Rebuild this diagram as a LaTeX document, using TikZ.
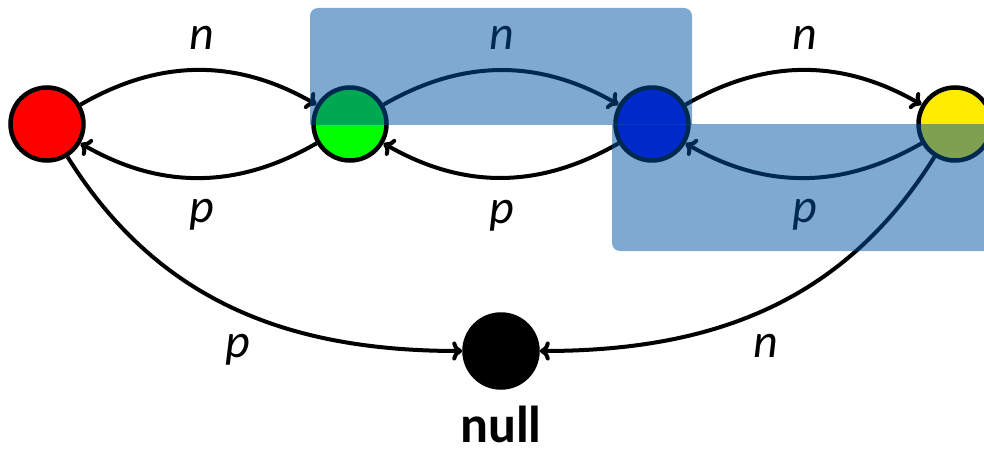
\documentclass[tikz,border=0pt]{standalone}
\usepackage{fontspec}
\setmainfont{Carlito}
\usetikzlibrary{arrows.meta}
\definecolor{hlblue}{RGB}{0,83,163}
\definecolor{nred}{RGB}{255,0,0}
\definecolor{ngreen}{RGB}{0,255,0}
\definecolor{nblue}{RGB}{0,0,240}
\definecolor{nyellow}{RGB}{255,236,0}
\begin{document}
\begin{tikzpicture}[x=1pt,y=1pt,
  state/.style={circle,draw=black,line width=4.5pt,minimum size=73pt,inner sep=0pt},
  link/.style={line width=4pt,-{To[length=10pt,width=19pt]}},
  lbl/.style={font=\fontsize{48}{48}\selectfont\itshape,anchor=base,inner sep=0pt},
  hl/.style={fill=hlblue,fill opacity=0.5}]
\useasboundingbox (0,0) rectangle (984,448);
% nodes
\node[state,fill=nred] (r) at (47,324) {};
\node[state,fill=ngreen] (g) at (350,324) {};
\node[state,fill=nblue] (b) at (652,324) {};
\node[state,fill=nyellow] (y) at (955,324) {};
\node[state,fill=black] (z) at (501,97) {};
\node[font=\fontsize{52}{52}\selectfont\bfseries,anchor=base,inner sep=0pt] (nl) at (501,6) {null};
% edges
\draw[link] (r) to[bend left=30] (g);
\draw[link] (g) to[bend left=30] (r);
\draw[link] (g) to[bend left=30] (b);
\draw[link] (b) to[bend left=30] (g);
\draw[link] (b) to[bend left=30] (y);
\draw[link] (y) to[bend left=30] (b);
\draw[link] (r) to[out=-58,in=180] (z);
\draw[link] (y) to[out=-122,in=0] (z);
% labels
\node[lbl] (l1) at (202,398) {n};
\node[lbl] (l2) at (202,226) {p};
\node[lbl] (l3) at (502,398) {n};
\node[lbl] (l4) at (502,225) {p};
\node[lbl] (l5) at (805,398) {n};
\node[lbl] (l6) at (805,226) {p};
\node[lbl] (l7) at (238,91) {p};
\node[lbl] (l8) at (766,91) {n};
% highlight rectangles
\begin{scope}
\clip (0,323.5) rectangle (984,448);
\fill[hl,rounded corners=8pt] (310,300) rectangle (692,440);
\end{scope}
\begin{scope}
\clip (0,0) rectangle (984,323.5);
\fill[hl,rounded corners=8pt] (612,197) rectangle (1010,340);
\end{scope}
\end{tikzpicture}
\end{document}
